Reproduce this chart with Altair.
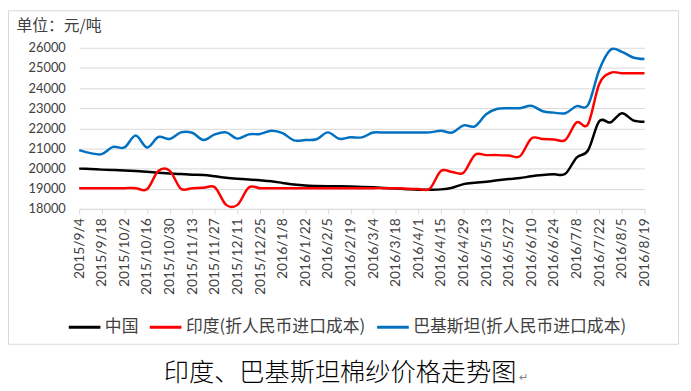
import altair as alt
import pandas as pd

dates = [
    "2015/9/4", "2015/9/11", "2015/9/18", "2015/9/25", "2015/10/2", "2015/10/9",
    "2015/10/16", "2015/10/23", "2015/10/30", "2015/11/6", "2015/11/13", "2015/11/20",
    "2015/11/27", "2015/12/4", "2015/12/11", "2015/12/18", "2015/12/25",
    "2016/1/1", "2016/1/8", "2016/1/15", "2016/1/22", "2016/1/29", "2016/2/5",
    "2016/2/12", "2016/2/19", "2016/2/26", "2016/3/4", "2016/3/11", "2016/3/18",
    "2016/3/25", "2016/4/1", "2016/4/8", "2016/4/15", "2016/4/22", "2016/4/29",
    "2016/5/6", "2016/5/13", "2016/5/20", "2016/5/27", "2016/6/3", "2016/6/10",
    "2016/6/17", "2016/6/24", "2016/7/1", "2016/7/8", "2016/7/15", "2016/7/22",
    "2016/7/29", "2016/8/5", "2016/8/12", "2016/8/19",
]

china = [
    20000, 19980, 19950, 19930, 19910, 19880, 19840, 19800, 19760, 19730,
    19700, 19680, 19620, 19550, 19500, 19460, 19420, 19370, 19290, 19210,
    19160, 19140, 19130, 19120, 19110, 19090, 19070, 19040, 19010, 18980,
    18950, 18950, 18970, 19050, 19230, 19300, 19350, 19420, 19480, 19530,
    19620, 19680, 19720, 19740, 20550, 20900, 22350, 22300, 22750, 22400,
    22330,
]

india = [
    19030, 19030, 19030, 19030, 19030, 19030, 18970, 19880, 19900, 19000,
    19030, 19050, 19070, 18200, 18200, 19060, 19030, 19030, 19030, 19030,
    19030, 19030, 19030, 19030, 19030, 19030, 19030, 19030, 19020, 19000,
    18990, 19000, 19880, 19830, 19800, 20680, 20670, 20670, 20650, 20620,
    21500, 21470, 21450, 21420, 22300, 22200, 24200, 24760, 24740, 24740,
    24740,
]

pakistan = [
    20920, 20770, 20720, 21080, 21050, 21640, 21050, 21570, 21470, 21800,
    21780, 21420, 21700, 21800, 21490, 21700, 21720, 21880, 21760, 21400,
    21420, 21460, 21800, 21480, 21560, 21550, 21790, 21790, 21790, 21790,
    21790, 21800, 21880, 21790, 22150, 22100, 22700, 22970, 23000, 23000,
    23120, 22850, 22780, 22750, 23100, 23150, 24900, 25900, 25800, 25520,
    25440,
]

series_names = ["中国", "印度(折人民币进口成本)", "巴基斯坦(折人民币进口成本)"]
series_colors = ["#000000", "#FF0000", "#0070C0"]
y_ticks = [18000, 19000, 20000, 21000, 22000, 23000, 24000, 25000, 26000]
x_label_dates = dates[::2]
unit_label = "单位：元/吨"
caption = "印度、巴基斯坦棉纱价格走势图"
para_mark = "↵"

rows = []
for name, vals in zip(series_names, [china, india, pakistan]):
    for d, v in zip(dates, vals):
        rows.append({"date": d, "series": name, "value": v})
df = pd.DataFrame(rows)

FONT_CJK = "Noto Sans CJK SC"
FONT_NUM = "Lato"
TXT = "#404040"
GRID = "#d9d9d9"

lines = alt.Chart(df).mark_line(
    interpolate="cardinal", tension=0, strokeWidth=2.5
).encode(
    x=alt.X(
        "date:O", sort=dates,
        scale=alt.Scale(type="point", padding=0),
        axis=alt.Axis(
            values=x_label_dates, title=None, labelAngle=270,
            labelFont=FONT_NUM, labelFontSize=14, labelColor=TXT,
            domainColor=GRID, tickColor=GRID, tickSize=5, labelPadding=4,
            grid=False, labelOverlap=False,
        ),
    ),
    y=alt.Y(
        "value:Q",
        scale=alt.Scale(domain=[18000, 26000], nice=False, zero=False),
        axis=alt.Axis(
            values=y_ticks, title=unit_label, titleAngle=0, titleAlign="left",
            titleBaseline="middle", titleX=-64, titleY=-22,
            titleFont=FONT_CJK, titleFontSize=16, titleFontWeight="normal",
            titleColor=TXT, labelFont=FONT_NUM, labelFontSize=13,
            labelColor=TXT, labelPadding=14, ticks=False, domain=False,
            grid=True, gridColor=GRID, format="d",
        ),
    ),
    color=alt.Color(
        "series:N",
        scale=alt.Scale(domain=series_names, range=series_colors),
        legend=alt.Legend(
            orient="none", legendX=-12, legendY=265, direction="horizontal",
            title=None, symbolType="stroke", symbolSize=1024,
            symbolStrokeWidth=3, labelFont=FONT_CJK, labelFontSize=17,
            labelColor=TXT, labelOffset=3, columnPadding=5, labelLimit=400,
        ),
    ),
)

cap_df = pd.DataFrame({"t": [caption], "p": [para_mark]})

border = alt.Chart(cap_df).mark_rect(
    fillOpacity=0, stroke=GRID, strokeWidth=1
).encode(
    x=alt.value(-71.5), x2=alt.value(606.5), y=alt.value(-37.5), y2=alt.value(300)
)

cap = alt.Chart(cap_df).mark_text(
    font=FONT_CJK, fontSize=25.5, fontWeight=300, color="#000000",
    align="center", baseline="middle"
).encode(text="t:N", x=alt.value(264), y=alt.value(329))

para = alt.Chart(cap_df).mark_text(
    font=FONT_CJK, fontSize=11, color="#808080", align="left", baseline="middle"
).encode(text="p:N", x=alt.value(445), y=alt.value(334))

chart = alt.layer(border, lines, cap, para).properties(
    width=572, height=163,
    autosize=alt.AutoSizeParams(type="none"),
    padding={"left": 72, "top": 38, "right": 39, "bottom": 182},
).configure_view(stroke=None)

chart.save("out.html", embed_options={"renderer": "svg", "actions": False})
